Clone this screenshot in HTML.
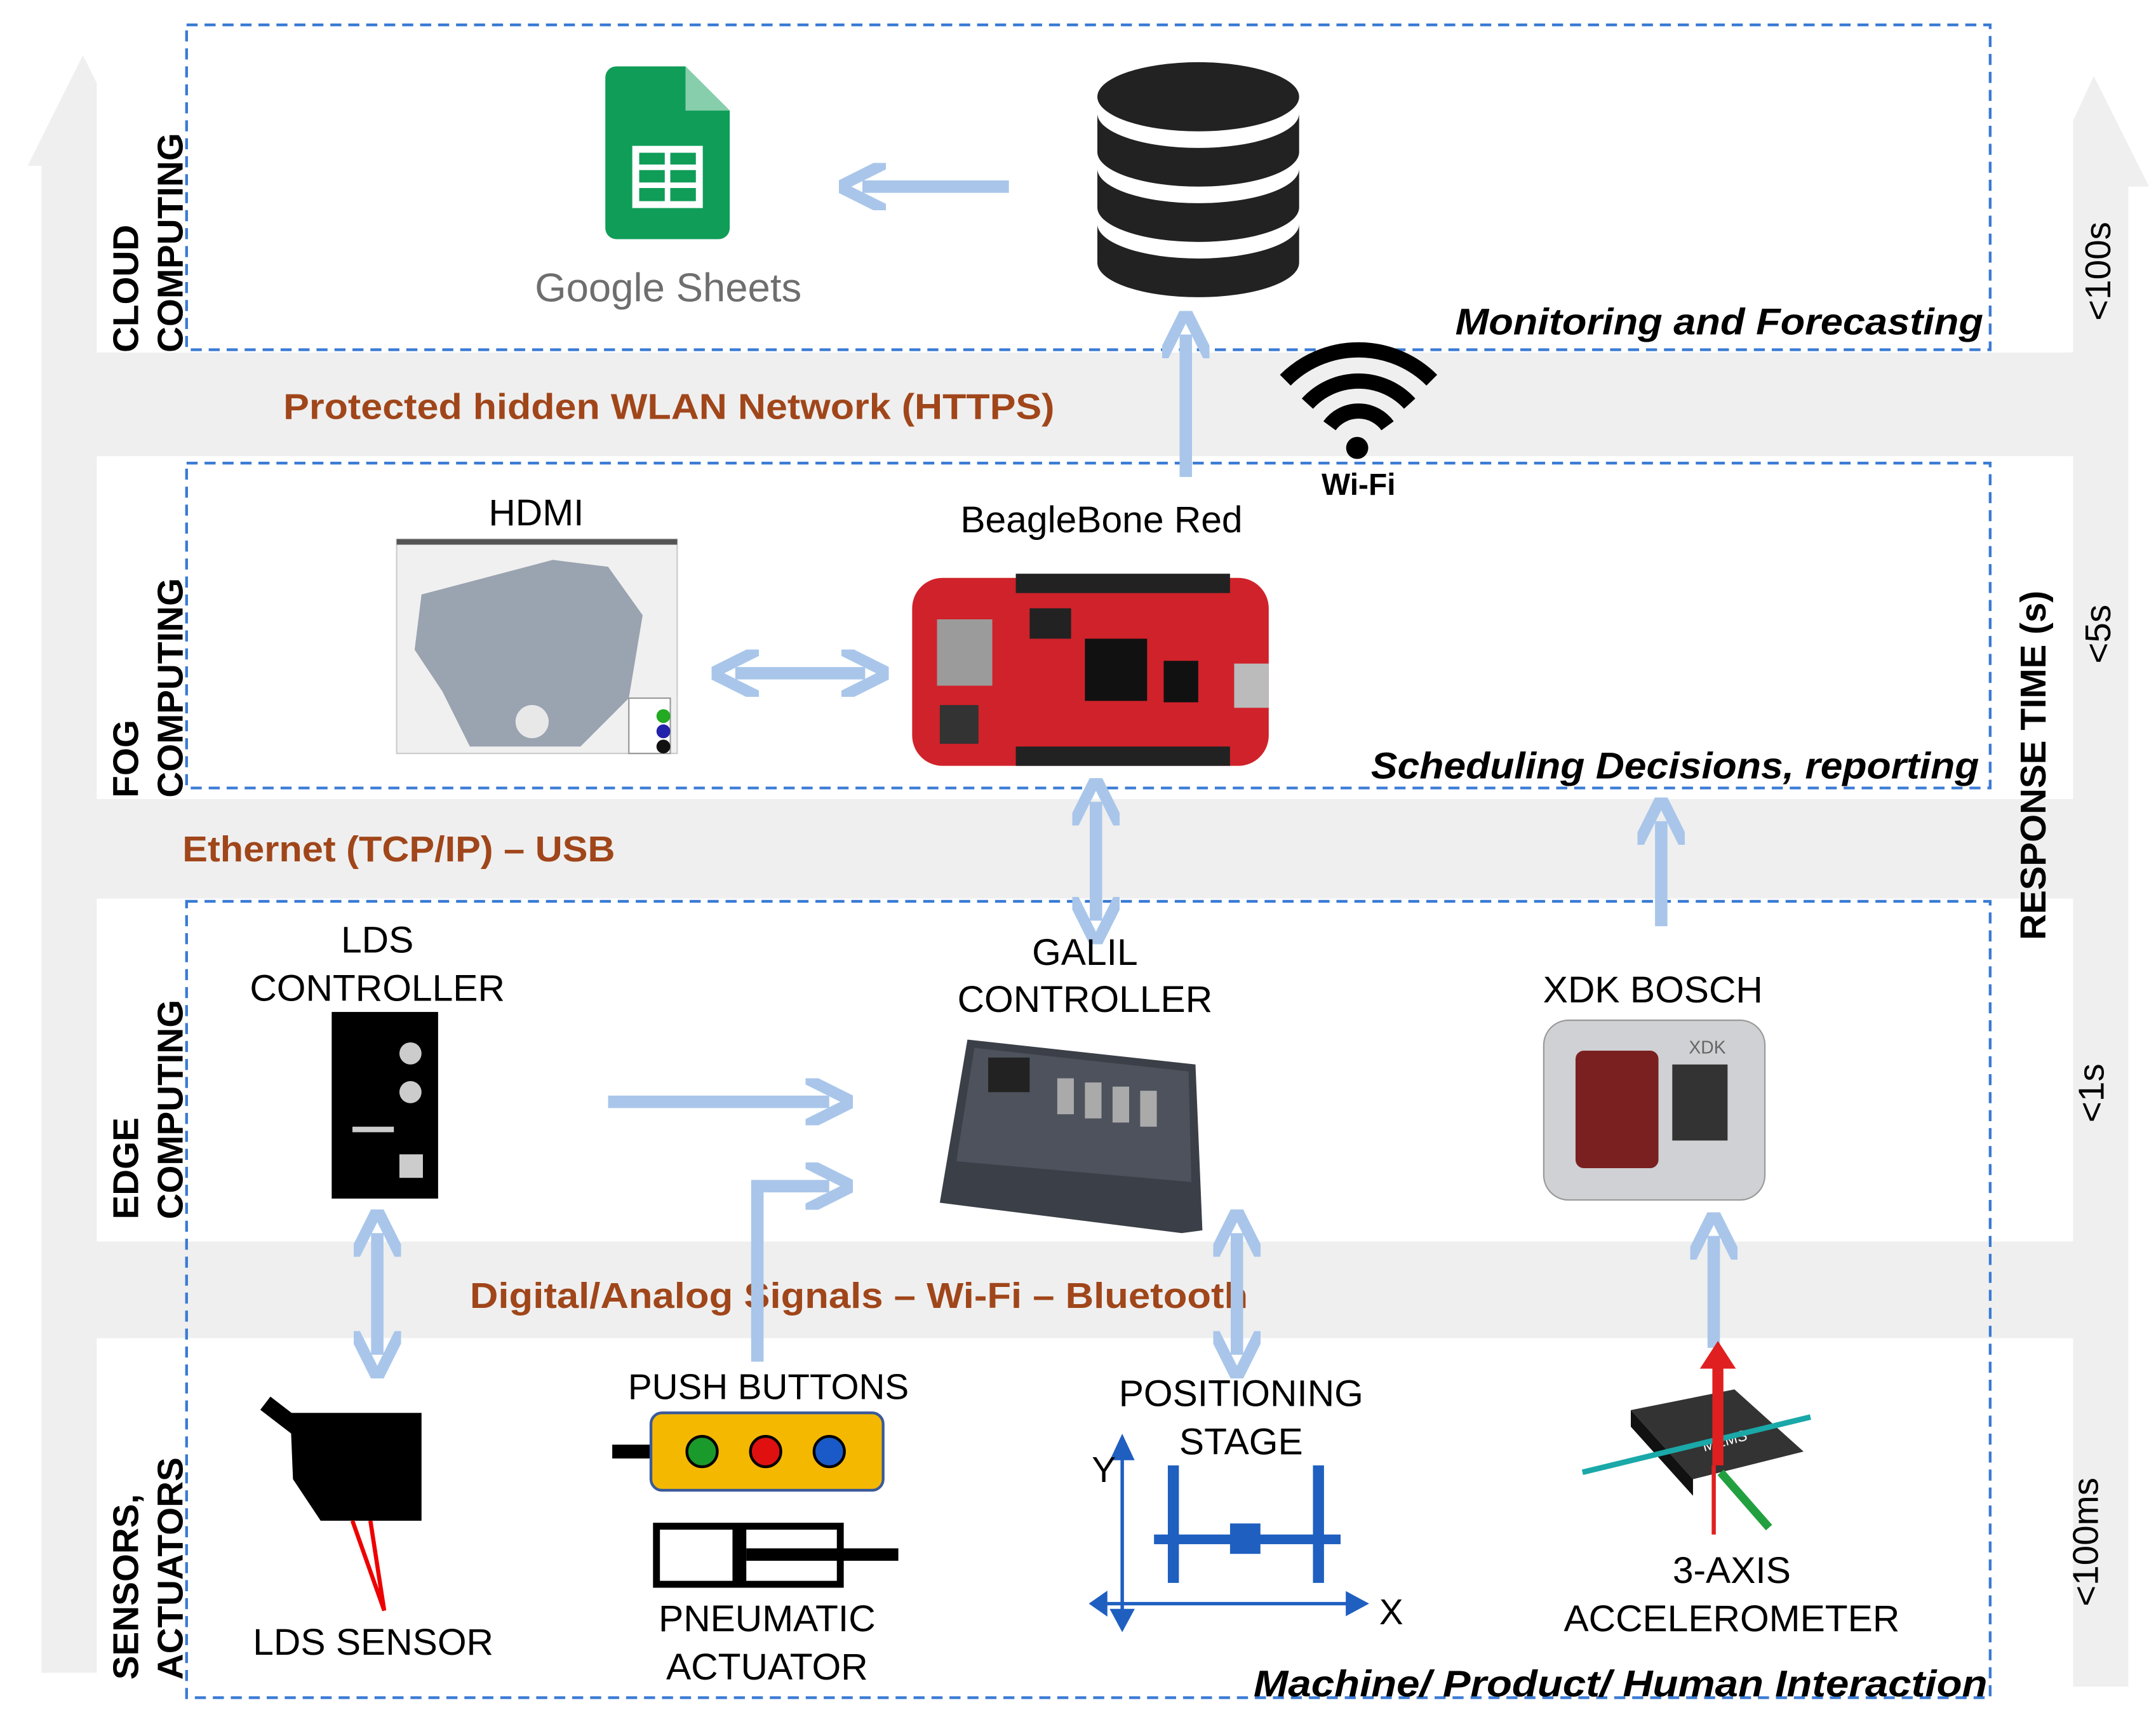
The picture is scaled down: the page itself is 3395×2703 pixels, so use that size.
<!DOCTYPE html>
<html><head><meta charset="utf-8"><style>
html,body{margin:0;padding:0;background:#fff}
svg{display:block}
text{font-family:"Liberation Sans",sans-serif}
</style></head><body>
<svg width="3395" height="2703" viewBox="0 0 1560 1242" preserveAspectRatio="none" xmlns="http://www.w3.org/2000/svg">
<defs>
<marker id="ah" viewBox="0 0 10 10" refX="5" refY="5" markerWidth="3.8" markerHeight="3.8" orient="auto-start-reverse"><path d="M0,0 L10,5 L0,10" fill="none" stroke="#a9c6ea" stroke-width="2.4"/></marker>
</defs>
<rect width="1560" height="1242" fill="#fff"/>
<polygon points="30,1210 30,120 20,120 60,40 100,120 90,120 90,1210" fill="#efefef"/>
<polygon points="1490,1220 1490,135 1478,135 1515,55 1555,135 1540,135 1540,1220" fill="#efefef"/>
<rect x="70" y="255" width="1430" height="75" fill="#efefef"/>
<rect x="70" y="578" width="1430" height="72" fill="#efefef"/>
<rect x="70" y="898" width="1430" height="70" fill="#efefef"/>
<rect x="70" y="330" width="1430" height="248" fill="#fff"/>
<rect x="70" y="650" width="1430" height="248" fill="#fff"/>
<rect x="70" y="968" width="1430" height="262" fill="#fff"/>
<rect x="70" y="18" width="1430" height="237" fill="#fff"/>
<g fill="none" stroke="#3a7bd5" stroke-width="2" stroke-dasharray="8,5">
<rect x="135" y="18" width="1305" height="235"/>
<rect x="135" y="335" width="1305" height="235"/>
<path d="M135,652 H1440 V1228 H135 Z"/>
</g>
<rect x="136" y="899" width="1303" height="68" fill="#efefef"/>
<g font-weight="bold" font-size="26" fill="#000">
<text transform="translate(100,255) rotate(-90)">CLOUD</text>
<text transform="translate(132,255) rotate(-90)">COMPUTING</text>
<text transform="translate(100,577) rotate(-90)">FOG</text>
<text transform="translate(132,577) rotate(-90)">COMPUTING</text>
<text transform="translate(100,882) rotate(-90)">EDGE</text>
<text transform="translate(132,882) rotate(-90)">COMPUTING</text>
<text transform="translate(100,1215) rotate(-90)">SENSORS,</text>
<text transform="translate(132,1215) rotate(-90)">ACTUATORS</text>
<text transform="translate(1527,232) rotate(-90)" font-weight="normal">&lt;100s</text>
<text transform="translate(1527,480) rotate(-90)" font-weight="normal">&lt;5s</text>
<text transform="translate(1522,812) rotate(-90)" font-weight="normal">&lt;1s</text>
<text transform="translate(1518,1162) rotate(-90)" font-weight="normal">&lt;100ms</text>
<text transform="translate(1480,680) rotate(-90)">RESPONSE TIME (s)</text>
</g>
<g font-weight="bold" font-size="26" fill="#a0461a" lengthAdjust="spacingAndGlyphs">
<text x="205" y="303" textLength="558" lengthAdjust="spacingAndGlyphs">Protected hidden WLAN Network (HTTPS)</text>
<text x="132" y="623" textLength="313" lengthAdjust="spacingAndGlyphs">Ethernet (TCP/IP) – USB</text>
<text x="340" y="946" textLength="563" lengthAdjust="spacingAndGlyphs">Digital/Analog Signals – Wi-Fi – Bluetooth</text>
</g>
<g font-weight="bold" font-style="italic" font-size="27" fill="#000">
<text x="1053" y="242" textLength="382" lengthAdjust="spacingAndGlyphs">Monitoring and Forecasting</text>
<text x="992" y="563" textLength="440" lengthAdjust="spacingAndGlyphs">Scheduling Decisions, reporting</text>
<text x="907" y="1227" textLength="531" lengthAdjust="spacingAndGlyphs">Machine/ Product/ Human Interaction</text>
</g>
<path d="M446,48 H496 L528,80 V165 a8,8 0 0 1 -8,8 H446 a8,8 0 0 1 -8,-8 V56 a8,8 0 0 1 8,-8 Z" fill="#0f9d58"/>
<path d="M496,48 V80 H528 Z" fill="#87ceac"/>
<rect x="460" y="108" width="46" height="40" fill="none" stroke="#fff" stroke-width="5"/>
<path d="M460,121 H506 M460,134 H506 M483,108 V148" stroke="#fff" stroke-width="4"/>
<text x="387" y="218" font-size="29" fill="#6e6e6e" textLength="193" lengthAdjust="spacingAndGlyphs">Google Sheets</text>
<g stroke="#a9c6ea" stroke-width="9" fill="none" marker-end="url(#ah)">
<line x1="730" y1="135" x2="624" y2="135"/>
<line x1="858" y1="345" x2="858" y2="242"/>
<line x1="1202" y1="670" x2="1202" y2="594"/>
<line x1="440" y1="797" x2="600" y2="797"/>
<path d="M548,985 V858 H600"/>
<line x1="1240" y1="975" x2="1240" y2="894"/>
<line x1="532" y1="487" x2="626" y2="487" marker-start="url(#ah)"/>
<line x1="793" y1="580" x2="793" y2="666" marker-start="url(#ah)"/>
<line x1="273" y1="892" x2="273" y2="980" marker-start="url(#ah)"/>
<line x1="895" y1="892" x2="895" y2="980" marker-start="url(#ah)"/>
</g>
<g fill="#222">
<ellipse cx="867" cy="70" rx="73" ry="25"/>
<path d="M794,82 a73,25 0 0 0 146,0 V110 a73,25 0 0 1 -146,0 Z"/>
<path d="M794,122 a73,25 0 0 0 146,0 V150 a73,25 0 0 1 -146,0 Z"/>
<path d="M794,162 a73,25 0 0 0 146,0 V190 a73,25 0 0 1 -146,0 Z"/>
</g>
<g fill="none" stroke="#000" stroke-width="11">
<path d="M930,275 a75,75 0 0 1 106,0"/>
<path d="M946,292 a50,50 0 0 1 74,0"/>
<path d="M962,308 a26,26 0 0 1 42,0"/>
</g>
<circle cx="982" cy="324" r="8" fill="#000"/>
<text x="983" y="358" font-size="22" font-weight="bold" text-anchor="middle">Wi-Fi</text>
<text x="388" y="380" font-size="27" text-anchor="middle">HDMI</text>
<rect x="287" y="390" width="203" height="155" fill="#f0f0f0" stroke="#ccc"/>
<rect x="287" y="390" width="203" height="4" fill="#555"/>
<path d="M305,430 L400,405 L440,410 L465,445 L455,505 L420,540 L340,540 L320,500 L300,470 Z" fill="#9aa3b0"/>
<circle cx="385" cy="522" r="12" fill="#e8e8e8"/>
<rect x="455" y="505" width="30" height="40" fill="#fff" stroke="#999"/>
<circle cx="480" cy="518" r="5" fill="#2a2"/><circle cx="480" cy="529" r="5" fill="#22a"/><circle cx="480" cy="540" r="5" fill="#111"/>
<text x="797" y="385" font-size="27" text-anchor="middle">BeagleBone Red</text>
<rect x="660" y="418" width="258" height="136" rx="22" fill="#d0222a"/>
<rect x="735" y="415" width="155" height="14" fill="#222"/>
<rect x="735" y="540" width="155" height="14" fill="#222"/>
<rect x="678" y="448" width="40" height="48" fill="#9b9b9b"/>
<rect x="785" y="462" width="45" height="45" fill="#111"/>
<rect x="842" y="478" width="25" height="30" fill="#111"/>
<rect x="745" y="440" width="30" height="22" fill="#222"/>
<rect x="680" y="510" width="28" height="28" fill="#333"/>
<rect x="893" y="480" width="25" height="32" fill="#bbb"/>
<text x="273" y="689" font-size="27" text-anchor="middle">LDS</text>
<text x="273" y="724" font-size="27" text-anchor="middle">CONTROLLER</text>
<rect x="240" y="732" width="77" height="135" fill="#000"/>
<circle cx="297" cy="762" r="8" fill="#ccc"/><circle cx="297" cy="790" r="8" fill="#ccc"/>
<rect x="255" y="815" width="30" height="4" fill="#ccc"/><rect x="289" y="835" width="17" height="17" fill="#ccc"/>
<text x="785" y="698" font-size="27" text-anchor="middle">GALIL</text>
<text x="785" y="732" font-size="27" text-anchor="middle">CONTROLLER</text>
<polygon points="700,752 865,770 870,890 855,892 680,870" fill="#3b3f47"/>
<polygon points="705,758 860,775 862,855 692,840" fill="#4d525c"/>
<g fill="#aaa"><rect x="765" y="780" width="12" height="26"/><rect x="785" y="783" width="12" height="26"/><rect x="805" y="786" width="12" height="26"/><rect x="825" y="789" width="12" height="26"/></g>
<rect x="715" y="765" width="30" height="25" fill="#222"/>
<text x="1196" y="725" font-size="27" text-anchor="middle">XDK BOSCH</text>
<rect x="1117" y="738" width="160" height="130" rx="18" fill="#cfd1d4" stroke="#999"/>
<rect x="1140" y="760" width="60" height="85" rx="6" fill="#7a2020"/>
<rect x="1210" y="770" width="40" height="55" fill="#333"/>
<text x="1222" y="762" font-size="13" fill="#666">XDK</text>
<polygon points="210,1022 305,1022 305,1100 232,1100 212,1070" fill="#000"/>
<line x1="192" y1="1015" x2="218" y2="1035" stroke="#000" stroke-width="12"/>
<path d="M255,1100 L278,1165 L268,1100" fill="none" stroke="#e00" stroke-width="3"/>
<text x="270" y="1197" font-size="27" text-anchor="middle">LDS SENSOR</text>
<text x="556" y="1012" font-size="26" text-anchor="middle">PUSH BUTTONS</text>
<rect x="443" y="1045" width="30" height="10" fill="#000"/>
<rect x="471" y="1022" width="168" height="56" rx="8" fill="#f5b800" stroke="#3a5a9a" stroke-width="2"/>
<circle cx="508" cy="1050" r="11" fill="#1a9a2a" stroke="#000" stroke-width="2"/>
<circle cx="554" cy="1050" r="11" fill="#e01010" stroke="#000" stroke-width="2"/>
<circle cx="600" cy="1050" r="11" fill="#1a5ac8" stroke="#000" stroke-width="2"/>
<rect x="475" y="1104" width="133" height="42" fill="#fff" stroke="#000" stroke-width="5"/>
<rect x="530" y="1104" width="10" height="42" fill="#000"/>
<rect x="540" y="1120" width="110" height="9" fill="#000"/>
<text x="555" y="1180" font-size="27" text-anchor="middle">PNEUMATIC</text>
<text x="555" y="1215" font-size="27" text-anchor="middle">ACTUATOR</text>
<text x="898" y="1017" font-size="27" text-anchor="middle">POSITIONING</text>
<text x="898" y="1052" font-size="27" text-anchor="middle">STAGE</text>
<g stroke="#1f5fc0" stroke-width="2.5" fill="#1f5fc0">
<line x1="812" y1="1045" x2="812" y2="1175"/>
<line x1="795" y1="1160" x2="985" y2="1160"/>
<polygon points="805,1055 812,1040 819,1055"/><polygon points="975,1153 988,1160 975,1167"/><polygon points="805,1165 812,1178 819,1165"/><polygon points="800,1153 790,1160 800,1167"/>
</g>
<g fill="#1f5fc0"><rect x="845" y="1060" width="8" height="85"/><rect x="950" y="1060" width="8" height="85"/><rect x="835" y="1110" width="135" height="7"/><rect x="890" y="1102" width="22" height="22"/></g>
<text x="790" y="1072" font-size="26">Y</text>
<text x="998" y="1175" font-size="26">X</text>
<polygon points="1180,1020 1255,1005 1305,1050 1225,1070" fill="#333"/>
<polygon points="1180,1020 1225,1070 1225,1082 1180,1032" fill="#111"/>
<text x="1233" y="1050" font-size="11" fill="#fff" transform="rotate(-15 1233 1050)">MEMS</text>
<line x1="1145" y1="1065" x2="1310" y2="1025" stroke="#1aa8a8" stroke-width="4"/>
<line x1="1243" y1="1060" x2="1243" y2="985" stroke="#e02020" stroke-width="8"/>
<polygon points="1230,990 1243,970 1256,990" fill="#e02020"/>
<line x1="1240" y1="1060" x2="1240" y2="1110" stroke="#e02020" stroke-width="3"/>
<line x1="1245" y1="1065" x2="1280" y2="1105" stroke="#22a040" stroke-width="6"/>
<text x="1253" y="1145" font-size="27" text-anchor="middle">3-AXIS</text>
<text x="1253" y="1180" font-size="27" text-anchor="middle">ACCELEROMETER</text>
</svg>
</body></html>
